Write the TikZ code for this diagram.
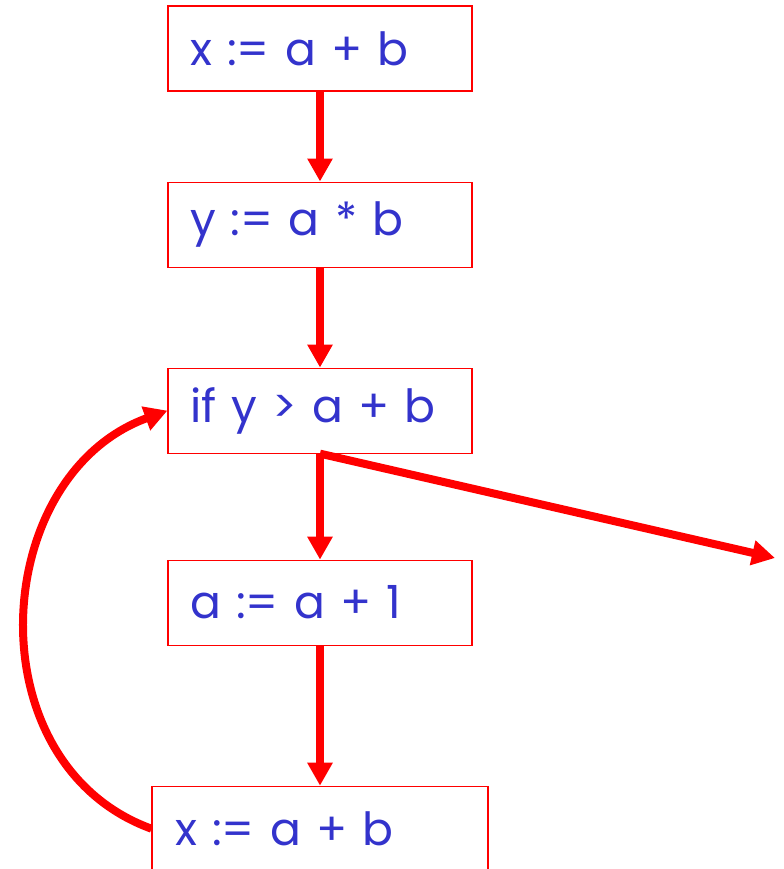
\documentclass[tikz,border=0pt]{standalone}
\usepackage{fontspec}
\setmainfont{Poppins}[WordSpace=0.65]
\usepackage{xcolor}
\usetikzlibrary{arrows.meta,positioning}
\definecolor{stmtblue}{RGB}{51,51,204}

\begin{document}
\begin{tikzpicture}[>={Triangle[length=4.6mm,width=4.8mm]},
  stmt/.style={draw=red, line width=0.6pt, minimum height=1.7cm, inner xsep=0.44cm, text width=5.2cm, align=left, text=stmtblue, font=\fontsize{26}{32}\selectfont},
  flow/.style={draw=red, line width=1.6mm, ->}]
\useasboundingbox (0,0) rectangle (15.68,-17.38);
\node[stmt] (xab) at (6.4,-0.97) {x := a + b};
\node[stmt, below=1.80cm of xab] (yab) {y := a * b};
\node[stmt, below=2.00cm of yab] (cond) {if y > a + b};
\node[stmt, below=2.12cm of cond] (inca) {a := a + 1};
\node[stmt, below=2.80cm of inca, inner xsep=0.46cm, text width=5.8cm] (xab2) {x := a + b};
\coordinate (exit) at (15.5,-11.16);
\draw[flow] (xab) -- (yab);
\draw[flow] (yab) -- (cond);
\draw[flow] (cond) -- (inca);
\draw[flow] (inca) -- (xab2);
\draw[flow] (cond.south) -- (exit);
\draw[flow] (xab2.west) .. controls +(160:3.8) and +(200:3.8) .. (cond.west);
\end{tikzpicture}
\end{document}
